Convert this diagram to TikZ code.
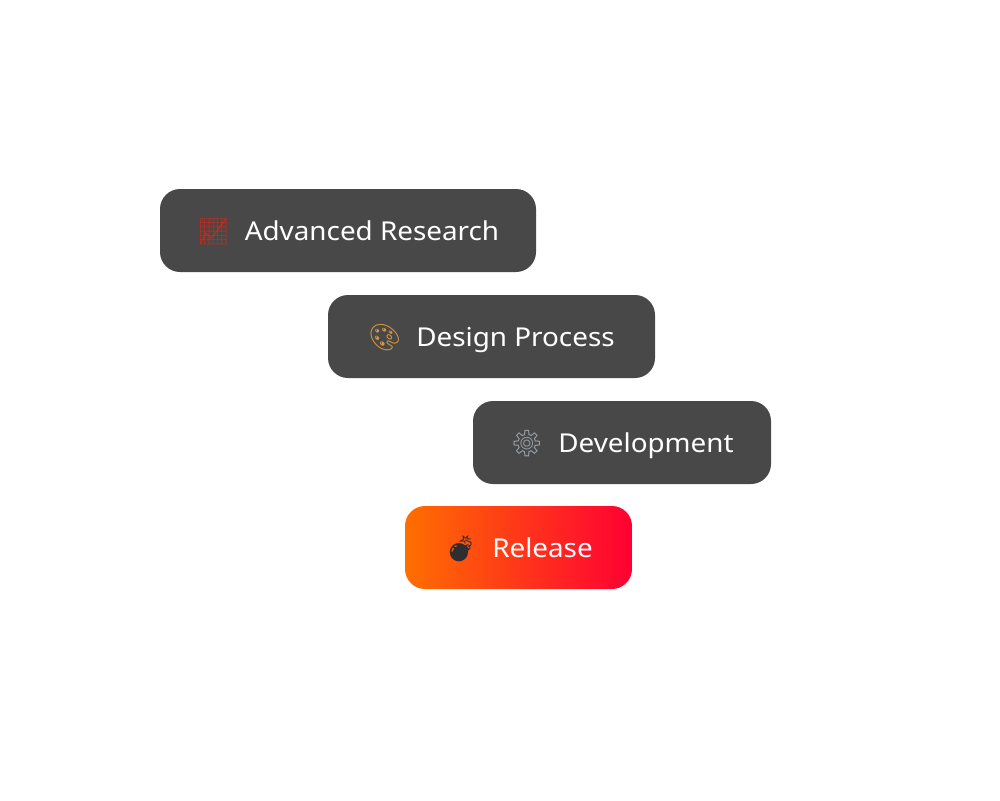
\documentclass[tikz,border=0pt]{standalone}
\usepackage{fontspec}
\setmainfont{Noto Sans}[FakeStretch=1.07]
\newfontfamily\emojifont{Noto Emoji}
\definecolor{boxgray}{HTML}{484848}
\definecolor{relleft}{HTML}{FF6E00}
\definecolor{relright}{HTML}{FF0033}
\definecolor{chartc}{HTML}{C8281E}
\definecolor{palc}{HTML}{D9953F}
\definecolor{gearc}{HTML}{9CA3AB}
\definecolor{bombc}{HTML}{2E2E30}
\begin{document}
\begin{tikzpicture}[x=1pt,y=-1pt,
  pill/.style={rounded corners=20pt, minimum height=83pt, inner sep=0pt,
    text=white, font=\fontsize{26}{31}\selectfont, anchor=center,
    text height=24pt, text depth=4pt},
  darkpill/.style={pill, fill=boxgray}]
\useasboundingbox (0,0) rectangle (1000,800);
\fill[white] (0,0) rectangle (1000,800);
\node[darkpill, minimum width=376pt] (research) at (348,230.5)
  {{\emojifont\color{chartc}\fontsize{26}{31}\selectfont 📈}\hspace{15pt}Advanced Research};
\node[darkpill, minimum width=327pt] (design) at (491.5,336.5)
  {{\emojifont\color{palc}\fontsize{26}{31}\selectfont 🎨}\hspace{15pt}Design Process};
\node[darkpill, minimum width=298pt] (dev) at (622,442.5)
  {{\emojifont\color{gearc}\fontsize{26}{31}\selectfont ⚙}\hspace{15pt}Development};
\node[pill, minimum width=227pt, left color=relleft, right color=relright] (release) at (518.5,547.5)
  {{\emojifont\color{bombc}\fontsize{26}{31}\selectfont 💣}\hspace{15pt}Release};
\end{tikzpicture}
\end{document}
